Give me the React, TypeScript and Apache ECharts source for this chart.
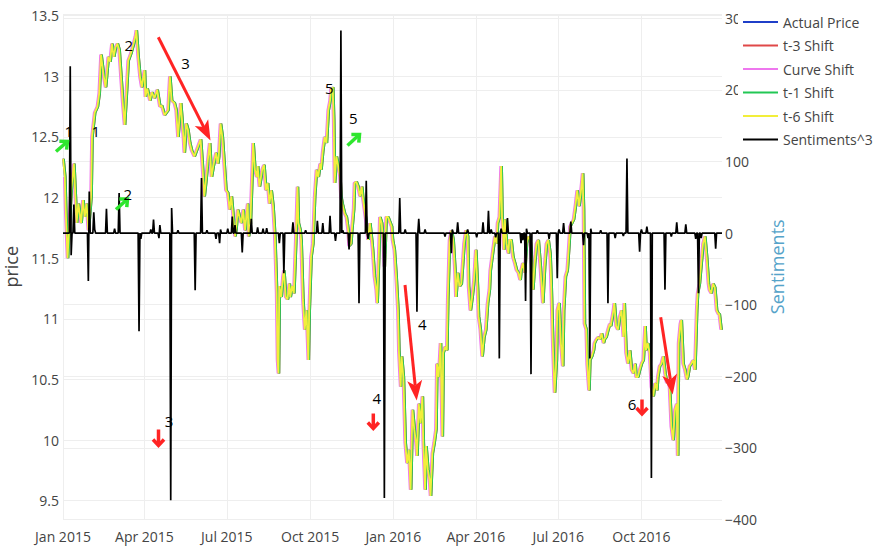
import React, { useEffect, useRef } from 'react';
import * as echarts from 'echarts';

// ---- axis / categories (calendar days since 2015-01-01) ----
const startYear = 2015;
const dayCount = 729; // 2015-01-01 .. 2016-12-29
const monthNames = ['Jan', 'Feb', 'Mar', 'Apr', 'May', 'Jun', 'Jul', 'Aug', 'Sep', 'Oct', 'Nov', 'Dec'];
const tickMonths = [0, 3, 6, 9];

// ---- price (day offset since 2015-01-01, value) ----
const priceDays = [
  0, 2, 3, 5, 9, 12, 15, 17, 20, 22, 24, 26, 28, 31, 32, 35, 38, 40, 42, 45, 47, 50, 52, 54, 56, 58, 60, 62, 64, 66, 68, 70, 72, 75, 78, 80, 81, 83, 85, 87, 90, 91, 93, 96, 98, 101, 104, 107, 109, 112, 116,
  118, 120, 123, 125, 127, 130, 133, 134, 136, 138, 140, 142, 145, 149, 152, 154, 156, 158, 160, 162, 164, 166, 169, 171, 172, 174, 176, 178, 180, 182, 184, 186, 188, 190, 191, 193, 195, 197, 199, 201, 204, 205, 207, 210, 212, 214, 215, 217, 220, 222, 224, 226, 228, 230, 232, 234, 236, 237, 238,
  239, 241, 243, 244, 246, 248, 250, 251, 253, 255, 257, 259, 260, 262, 263, 265, 267, 269, 271, 272, 274, 276, 278, 280, 282, 284, 285, 287, 289, 291, 293, 295, 296, 298, 299, 300, 302, 304, 306, 307, 309, 311, 313, 315, 316, 318, 319, 321, 322, 324, 326, 328, 330, 331, 333, 335, 337, 339, 341, 342, 344, 346, 347, 349, 350, 352, 354, 355, 357, 359,
  363, 364, 366, 368, 370, 371, 373, 374, 376, 378, 380, 382, 384, 386, 388, 390, 391, 393, 395, 397, 398, 400, 401, 403, 405, 406, 408, 410, 412, 413, 415, 417, 419, 420, 422, 424, 425, 427, 429, 431, 433, 434, 436, 438, 440, 443, 445, 447, 448, 450, 452, 454, 456, 458, 459, 461, 463, 465, 467, 469, 471, 472, 475, 477, 479, 480,
  482, 484, 485, 487, 488, 490, 492, 493, 495, 497, 499, 501, 503, 505, 506, 508, 510, 512, 514, 516, 517, 519, 521, 523, 525, 527, 528, 530, 532, 534, 536, 538, 539, 541, 543, 545, 546, 548, 550, 552, 553, 555, 557, 559, 560, 562, 564, 566, 568, 570, 572, 573, 574, 575, 576, 578, 579, 581, 582, 584, 586, 587, 589, 591, 593, 595, 597, 598, 600, 602, 604,
  605, 608, 609, 611, 613, 615, 617, 619, 620, 622, 624, 626, 628, 630, 632, 633, 635, 637, 639, 641, 643, 644, 646, 648, 650, 652, 654, 656, 657, 659, 661, 663, 665, 667, 668, 670, 672, 674, 676, 678, 679, 680, 682, 683, 685, 687, 689, 690, 692, 694, 696, 698, 700, 701, 703, 705, 707, 709, 711, 713, 714, 716, 718, 720, 722, 724, 725, 727,
];
const priceVals = [
  12.32, 12.17, 11.9, 11.5, 12.06, 12.28, 11.79, 11.95, 11.79, 11.98, 11.84, 11.95, 11.73, 12.01, 12.5, 12.7, 12.75, 12.86, 13.18, 13.0, 12.91, 13.16, 13.12, 13.27, 13.16, 13.24, 13.27, 13.22, 13.0, 12.78, 12.6, 12.86, 13.13, 13.19, 13.27, 13.33, 13.38, 13.16, 13.0, 12.91, 13.05, 12.83, 12.9, 12.8, 12.87, 12.82, 12.89, 12.75, 12.76, 12.68, 12.72,
  13.0, 12.8, 12.78, 12.72, 12.5, 12.78, 12.5, 12.37, 12.61, 12.56, 12.45, 12.39, 12.34, 12.42, 12.48, 12.26, 12.01, 12.15, 12.31, 12.45, 12.17, 12.26, 12.37, 12.28, 12.34, 12.61, 12.5, 12.28, 12.06, 12.04, 11.9, 12.01, 11.84, 11.68, 11.73, 11.9, 11.84, 11.79, 11.9, 11.73, 11.95, 11.68, 11.79, 12.45, 12.23, 12.17, 12.26, 12.09, 12.23, 12.27, 12.06, 12.12, 11.95, 12.06, 11.93, 11.68, 11.21, 10.66, 10.55,
  11.27, 11.18, 11.35, 11.4, 11.18, 11.16, 11.29, 11.18, 11.27, 11.21, 11.62, 12.09, 11.79, 11.73, 11.65, 11.16, 10.91, 11.07, 10.66, 11.07, 11.51, 11.62, 12.01, 12.23, 12.17, 12.28, 12.23, 12.39, 12.5, 12.45, 12.72, 12.8, 12.89, 12.91, 12.64, 12.12, 12.34, 12.26, 12.17, 12.01, 11.93, 11.87, 11.84, 11.73, 11.6, 11.62, 11.73, 11.9, 12.12, 12.13, 12.09, 12.01, 12.09, 12.01, 11.9, 11.79, 11.65, 11.79, 11.65, 11.57, 11.35, 11.24, 11.13, 11.57, 11.84, 11.79, 11.62, 11.43, 11.84, 11.84,
  11.76, 11.65, 11.57, 11.35, 11.07, 10.74, 10.44, 10.69, 10.52, 9.98, 9.81, 9.92, 9.59, 10.25, 10.09, 9.98, 9.87, 10.3, 10.14, 10.36, 9.98, 9.59, 9.95, 9.76, 9.67, 9.54, 9.89, 9.98, 10.09, 10.63, 10.52, 10.8, 10.03, 10.72, 10.77, 10.74, 11.16, 11.65, 11.73, 11.65, 11.4, 11.18, 11.38, 11.27, 11.29, 11.62, 11.73, 11.68, 11.27, 11.07, 11.18, 11.32, 11.57, 11.24, 11.02, 10.91, 10.69, 10.85, 10.91, 11.13, 11.24, 11.4, 11.57, 11.68, 11.62, 11.79,
  11.84, 12.26, 11.84, 11.57, 11.82, 11.62, 11.54, 11.65, 11.65, 11.51, 11.46, 11.4, 11.38, 11.32, 11.4, 11.46, 11.38, 11.62, 11.68, 11.65, 11.57, 11.24, 11.46, 11.62, 11.65, 11.46, 11.35, 11.13, 11.43, 11.62, 11.65, 11.54, 11.35, 10.8, 10.39, 10.66, 11.07, 11.13, 10.8, 10.61, 11.07, 11.35, 11.4, 11.62, 11.76, 11.79, 11.82, 11.93, 12.06, 11.93, 12.04, 12.12, 12.2, 11.9, 10.96, 10.91, 10.63, 10.41, 10.66, 10.69, 10.74, 10.8, 10.83, 10.85, 10.83, 10.88, 10.8, 10.83, 10.85, 10.91, 10.96,
  10.94, 11.07, 11.13, 10.94, 10.91, 11.02, 11.07, 10.85, 11.13, 10.72, 10.63, 10.74, 10.58, 10.55, 10.63, 10.52, 10.52, 10.58, 10.63, 10.66, 10.94, 10.74, 10.8, 10.72, 10.44, 10.36, 10.47, 10.41, 10.52, 10.61, 10.63, 10.69, 10.55, 10.47, 10.5, 10.44, 10.11, 10.0, 10.25, 10.3, 9.87, 10.8, 10.96, 10.99, 10.63, 10.58, 10.5, 10.52, 10.61, 10.63, 10.66, 10.58, 11.07, 11.21, 11.29, 11.46, 11.62, 11.68, 11.51, 11.29, 11.24, 11.21, 11.29, 11.26, 11.07, 11.04, 11.04, 10.91,
];

// ---- sentiments^3 spikes (day offset since 2015-01-01, value); other days are 0 ----
const sentDays = [
  8, 9, 12, 28, 29, 34, 35, 48, 57, 62, 84, 86, 97, 100, 106, 107, 119, 120, 127, 146,
  153, 159, 169, 173, 174, 182, 187, 190, 198, 208, 215, 221, 225, 239, 244, 254, 268, 281, 287, 295,
  301, 307, 309, 316, 327, 335, 337, 355, 372, 378, 391, 393, 400, 422, 429, 430, 436, 447, 457, 464,
  470, 473, 478, 482, 484, 491, 506, 508, 511, 512, 517, 524, 537, 546, 548, 553, 561, 575, 580, 582,
  583, 594, 602, 610, 619, 623, 637, 639, 645, 650, 665, 672, 678, 688, 699, 702, 705, 721,
];
const sentVals = [
  233, -31, 40, -67, 58, 29, 5, 34, 6, 56, -137, -8, 5, 19, -7, 11, -373, 35, 4, -80,
  77, 4, -8, -14, 5, 6, 23, 11, -27, 20, 8, 6, 7, -14, -56, 15, 4, 17, 14, 24,
  -11, 283, 4, -23, -98, 73, -8, -370, 49, 5, -110, 20, 5, -5, -28, 5, 15, 5, -6, 15,
  31, 5, -6, -175, 6, 21, -14, -10, -95, 6, -197, 4, -8, -63, 5, 14, 16, -17, -7, -175,
  6, 4, -98, -7, -4, 104, -26, 5, 9, -342, -79, -5, 15, 12, -8, -84, -7, -22,
];

// ---- series names / colours / day shifts ----
const seriesNames = ['Actual Price', 't-3 Shift', 'Curve Shift', 't-1 Shift', 't-6 Shift', 'Sentiments^3'];
const seriesColors = ['#1f3fc8', '#e04848', '#ee77ee', '#22c755', '#f2ee3a', '#000000'];
const seriesDayShift = [0, 1, -1, 1, 0];

// ---- annotations (pixel positions) ----
const annotationLabels = [
  { text: '1', x: 68.8, y: 130.5 }, { text: '1', x: 95.8, y: 130.5 },
  { text: '2', x: 128.7, y: 45.3 }, { text: '2', x: 127.8, y: 194 },
  { text: '3', x: 185.5, y: 62.5 }, { text: '3', x: 169, y: 420.8 },
  { text: '5', x: 329.2, y: 87.5 }, { text: '5', x: 353.3, y: 117.5 },
  { text: '4', x: 422.2, y: 324 }, { text: '4', x: 376.7, y: 397.5 },
  { text: '6', x: 632, y: 404 },
];
const RED = '#ff2424';
const GREEN = '#2ee62e';
const arrowSpecs = [
  { from: [158.3, 37.3], to: [210.5, 140.5], color: RED, long: true },
  { from: [405, 285], to: [416.7, 400.5], color: RED, long: true },
  { from: [660.7, 317.3], to: [672.7, 394.5], color: RED, long: true },
  { from: [56, 151.5], to: [67.5, 141.5], color: GREEN, long: false },
  { from: [116, 209.5], to: [127.5, 199], color: GREEN, long: false },
  { from: [347.5, 145.5], to: [359.5, 134.5], color: GREEN, long: false },
  { from: [158.5, 429.5], to: [158.5, 445.5], color: RED, long: false },
  { from: [373.3, 413.5], to: [373.3, 428.5], color: RED, long: false },
  { from: [642, 399.5], to: [642, 414], color: RED, long: false },
];

const FONT = '"Open Sans", "DejaVu Sans", sans-serif';
const TEXT = '#444';

function buildArrow(a: any) {
  const [x1, y1] = a.from;
  const [x2, y2] = a.to;
  const dx = x2 - x1, dy = y2 - y1;
  const L = Math.hypot(dx, dy);
  const ux = dx / L, uy = dy / L;
  const px = -uy, py = ux;
  if (a.long) {
    const hl = 20, hw = 7.5;
    const bx = x2 - ux * hl, by = y2 - uy * hl;
    const nx = x2 - ux * hl * 0.75, ny = y2 - uy * hl * 0.75;
    return [
      { type: 'line', shape: { x1, y1, x2: nx, y2: ny }, style: { stroke: a.color, lineWidth: 3 }, silent: true, z: 100 },
      {
        type: 'polygon',
        shape: { points: [[x2, y2], [bx + px * hw, by + py * hw], [nx, ny], [bx - px * hw, by - py * hw]] },
        style: { fill: a.color }, silent: true, z: 100,
      },
    ];
  }
  const hl = 6, hw = 5.5;
  const bx = x2 - ux * hl, by = y2 - uy * hl;
  return [
    { type: 'line', shape: { x1, y1, x2: x2 - ux * 1.5, y2: y2 - uy * 1.5 }, style: { stroke: a.color, lineWidth: 3.5 }, silent: true, z: 100 },
    {
      type: 'polyline',
      shape: { points: [[bx + px * hw, by + py * hw], [x2, y2], [bx - px * hw, by - py * hw]] },
      style: { stroke: a.color, lineWidth: 3.5, lineJoin: 'miter', fill: null }, silent: true, z: 100,
    },
  ];
}

export default function App() {
  const ref = useRef<HTMLDivElement>(null);
  useEffect(() => {
    if (!ref.current) return;
    const chart = echarts.init(ref.current, undefined, { renderer: 'svg' });

    const categories: string[] = [];
    for (let i = 0; i < dayCount; i++) {
      const d = new Date(Date.UTC(startYear, 0, 1 + i));
      categories.push(d.toISOString().slice(0, 10));
    }
    const isQuarterStart = (value: string) => {
      const m = parseInt(value.slice(5, 7), 10) - 1;
      return value.slice(8, 10) === '01' && tickMonths.includes(m);
    };

    const shifted = (s: number) =>
      priceDays
        .map((d, i) => [d + s, priceVals[i]])
        .filter((p) => p[0] >= 0 && p[0] < dayCount);

    const sentFull = new Array(dayCount).fill(0);
    sentDays.forEach((d, i) => { sentFull[d] = sentVals[i]; });

    const priceSeries = seriesDayShift.map((s, si) => ({
      name: seriesNames[si],
      type: 'line',
      yAxisIndex: 0,
      data: shifted(s),
      symbol: 'none',
      lineStyle: { color: seriesColors[si], width: 1.8 },
      itemStyle: { color: seriesColors[si] },
      z: 2,
    }));

    const graphics: any[] = [];
    arrowSpecs.forEach((a) => graphics.push(...buildArrow(a)));
    annotationLabels.forEach((t) =>
      graphics.push({
        type: 'text', x: t.x, y: t.y, silent: true, z: 100,
        style: { text: t.text, fill: '#000', fontSize: 15, fontFamily: FONT, align: 'center', verticalAlign: 'middle' },
      })
    );

    chart.setOption({
      animation: false,
      backgroundColor: '#fff',
      textStyle: { fontFamily: FONT },
      grid: { left: 63, right: 168, top: 14, bottom: 28.5, outerBoundsMode: 'none', containLabel: false },
      legend: {
        orient: 'vertical',
        left: 738,
        top: 9,
        data: seriesNames,
        icon: 'rect',
        backgroundColor: '#fff',
        padding: [6, 8, 9, 5],
        itemWidth: 35,
        itemHeight: 2,
        itemGap: 9.5,
        textStyle: { color: TEXT, fontSize: 14, fontFamily: FONT, lineHeight: 14 },
        z: 10,
      },
      xAxis: {
        type: 'category',
        data: categories,
        boundaryGap: false,
        axisLine: { show: false },
        axisTick: { show: false },
        axisLabel: {
          interval: (_i: number, v: string) => isQuarterStart(v),
          formatter: (v: string) => `${monthNames[parseInt(v.slice(5, 7), 10) - 1]} ${v.slice(0, 4)}`,
          color: TEXT, fontSize: 14, fontFamily: FONT, margin: 10,
        },
        splitLine: {
          show: true,
          interval: (_i: number, v: string) => isQuarterStart(v),
          lineStyle: { color: '#eeeeee', width: 1 },
        },
      },
      yAxis: [
        {
          type: 'value',
          position: 'left',
          min: 9.345,
          max: 13.514,
          splitNumber: 8,
          name: 'price',
          nameLocation: 'middle',
          nameRotate: 90,
          nameGap: 40,
          nameTextStyle: { color: TEXT, fontSize: 18, fontFamily: FONT },
          axisLine: { show: false },
          axisTick: { show: false },
          axisLabel: {
            color: TEXT, fontSize: 14, fontFamily: FONT, margin: 4,
            formatter: (v: number) => (Math.abs(v * 2 - Math.round(v * 2)) < 1e-6 ? String(+v.toFixed(1)) : ''),
          },
          splitLine: { lineStyle: { color: '#eeeeee', width: 1 } },
        },
        {
          type: 'value',
          position: 'right',
          min: -400,
          max: 305.9,
          splitNumber: 7,
          name: 'Sentiments',
          nameLocation: 'middle',
          nameRotate: 90,
          nameGap: 41,
          nameTextStyle: { color: '#55a3c9', fontSize: 18, fontFamily: FONT },
          axisLine: { show: false },
          axisTick: { show: false },
          axisLabel: {
            color: TEXT, fontSize: 14, fontFamily: FONT, margin: 3,
            formatter: (v: number) => (Math.abs(v / 100 - Math.round(v / 100)) < 1e-6 ? (v < 0 ? '\u2212' + Math.abs(v) : String(v)) : ''),
          },
          splitLine: { lineStyle: { color: '#eeeeee', width: 1 } },
        },
      ],
      series: [
        ...priceSeries,
        {
          name: seriesNames[5],
          type: 'line',
          yAxisIndex: 1,
          data: sentFull,
          symbol: 'none',
          lineStyle: { color: seriesColors[5], width: 1.7 },
          itemStyle: { color: seriesColors[5] },
          z: 3,
        },
      ],
      graphic: graphics,
    });

    return () => chart.dispose();
  }, []);

  return <div ref={ref} style={{ position: 'fixed', left: 0, top: 0, width: 890, height: 548 }} />;
}
